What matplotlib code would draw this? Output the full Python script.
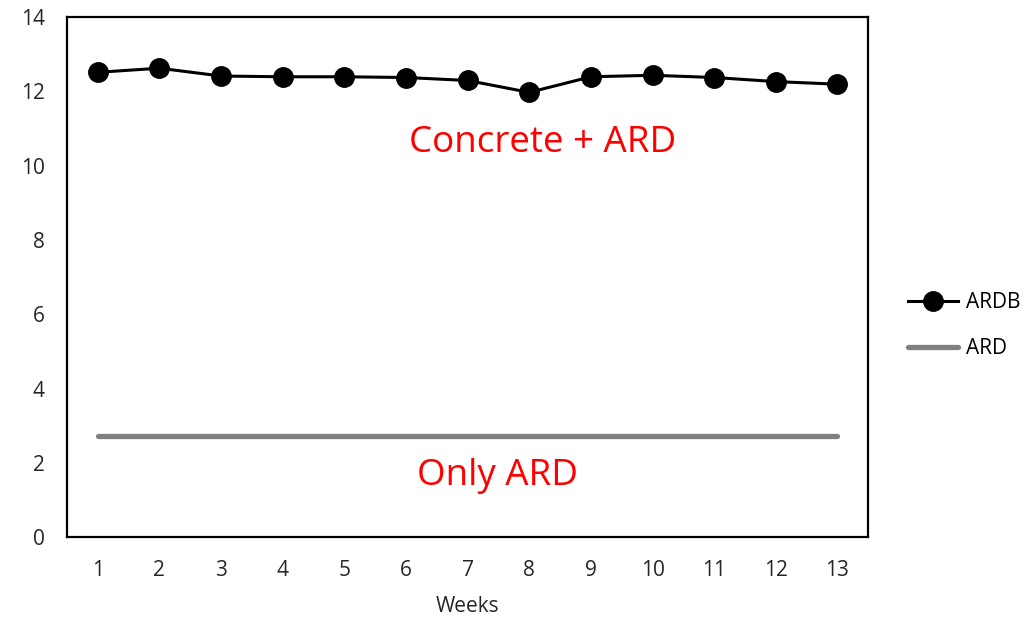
import numpy as np
import matplotlib.pyplot as plt

plt.rcParams['font.family'] = ['Open Sans', 'DejaVu Sans']

weeks = [1, 2, 3, 4, 5, 6, 7, 8, 9, 10, 11, 12, 13]
ardb = [12.51, 12.62, 12.41, 12.39, 12.39, 12.37, 12.29, 11.97, 12.39, 12.43, 12.37, 12.26, 12.19]
ard = [2.73] * len(weeks)

fig = plt.figure(figsize=(10.3, 6.19), dpi=100)
ax = fig.add_axes([0.065, 0.1317, 0.778, 0.841])

ax.plot(weeks, ardb, color='black', lw=2.2, marker='o', markersize=14, label='ARDB', zorder=3)
ax.plot(weeks, ard, color='#808080', lw=3.8, solid_capstyle='round', label='ARD')

ax.text(8.21, 10.62, 'Concrete + ARD', color='red', fontsize=26.5, ha='center', va='center')
ax.text(7.48, 1.66, 'Only ARD', color='red', fontsize=26.5, ha='center', va='center')

ax.set_xlim(0.5, 13.5)
ax.set_ylim(0, 14)
ax.set_xticks(weeks)
ax.set_yticks(np.arange(0, 15, 2))
ax.tick_params(length=0, labelsize=15, colors='#262626')
ax.tick_params(axis='x', pad=16)
ax.tick_params(axis='y', pad=16)
for s in ax.spines.values():
    s.set_linewidth(1.6)
    s.set_color('black')
ax.set_xlabel('Weeks', fontsize=15, color='#262626', labelpad=11)

fig.legend(loc='center left', bbox_to_anchor=(0.8816, 0.474), frameon=False,
           fontsize=15, handlelength=2.4, labelspacing=1.2, handletextpad=0.4,
           borderpad=0, borderaxespad=0)

fig.savefig('out.png', dpi=100)
